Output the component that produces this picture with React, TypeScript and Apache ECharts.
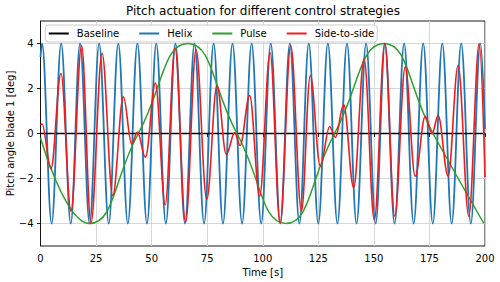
import React, { useEffect, useRef } from 'react';
import * as echarts from 'echarts';

const TITLE = 'Pitch actuation for different control strategies';
const X_NAME = 'Time [s]';
const Y_NAME = 'Pitch angle blade 1 [deg]';
const SERIES_NAMES = ['Baseline', 'Helix', 'Pulse', 'Side-to-side'];
const X_MIN = 0;
const X_MAX = 200;
const X_STEP = 25;
const Y_MIN = -5;
const Y_MAX = 5;
const Y_TICK_MIN = -4;
const Y_TICK_MAX = 4;
const Y_STEP = 2;

// Baseline: constant zero
const baselineTimes = [0, 200];
const baselineValues = [0, 0];

// Helix: extrema
const helixAmplitude = 4;
const helixStart = [0, 3.4];
const helixEnd = [200, 0.2];
const helixPeakTimes = [0.7, 9.3, 17.8, 26.4, 35.0, 43.6, 52.1, 60.7, 69.3, 77.9, 86.4, 95.0, 103.6, 112.2, 120.7, 129.3, 137.9, 146.5, 155.0, 163.6, 172.2, 180.8, 189.3, 197.9];
const helixTroughTimes = [5.0, 13.6, 22.1, 30.7, 39.3, 47.9, 56.4, 65.0, 73.6, 82.1, 90.7, 99.3, 107.9, 116.5, 125.0, 133.6, 142.2, 150.8, 159.3, 167.9, 176.5, 185.0, 193.6];

// Pulse: extrema and zero crossings
const pulseTimes = [0, 22.0, 44.0, 66.3, 88.4, 110.4, 132.3, 154.6, 176.6, 199.5];
const pulseValues = [-0.2, -4, 0, 4, 0, -4, 0, 4, 0, -4];

// Side-to-side: extrema
const sideTimes = [0, 0.7, 4.7, 9.2, 13.7, 18.5, 22.7, 27.7, 32.5, 37.3, 41.0, 43.6, 47.2, 51.7, 56.1, 60.5, 65.3, 70.0, 74.8, 79.4, 83.6, 87.4, 89.8, 94.1, 98.6, 103.3, 107.8, 112.6, 117.4, 121.4, 125.9, 130.1, 132.7, 136.4, 140.9, 145.6, 150.2, 154.9, 159.4, 164.1, 168.6, 173.1, 176.2, 178.9, 183.4, 187.9, 192.7, 197.4, 200];
const sideValues = [0.38, 0.42, -1.57, 2.67, -3.45, 3.91, -3.97, 3.56, -2.76, 1.63, -0.46, 0.07, -1.06, 2.24, -3.17, 3.81, -3.94, 3.73, -2.93, 2.13, -0.93, 0.04, -0.53, 1.69, -2.79, 3.59, -3.97, 3.91, -3.45, 2.58, -1.45, 0.3, -0.16, 1.29, -2.41, 3.32, -3.85, 4.0, -3.67, 2.96, -1.9, 0.77, 0.0, 0.8, -1.9, 3.02, -3.67, 4.0, -1.93];

const COLORS = {
  baseline: '#000000',
  helix: '#1f77b4',
  pulse: '#2ca02c',
  side: '#ee1c1f',
  grid: '#d2d2d2',
  axis: '#000000',
};

const zip = (xs: number[], ys: number[]) => xs.map((x, i) => [x, ys[i]]);

function buildHelix(): number[][] {
  const pts: number[][] = [];
  helixPeakTimes.forEach((t) => pts.push([t, helixAmplitude]));
  helixTroughTimes.forEach((t) => pts.push([t, -helixAmplitude]));
  pts.sort((a, b) => a[0] - b[0]);
  return [helixStart, ...pts, helixEnd];
}

const fmtNum = (v: number) => (v < 0 ? '\u2212' + String(Math.abs(v)) : String(v));

export default function App() {
  const ref = useRef<HTMLDivElement>(null);
  useEffect(() => {
    if (!ref.current) return;
    const chart = echarts.init(ref.current, undefined, { renderer: 'svg' });
    const font = 'DejaVu Sans';
    const left = 40.5;
    const top = 21;
    const width = 444.5;
    const height = 225;
    const unit = height / (Y_MAX - Y_MIN);
    const option: any = {
      animation: false,
      backgroundColor: '#ffffff',
      textStyle: { fontFamily: font },
      title: {
        text: TITLE,
        left: 263,
        top: 4.5,
        textAlign: 'center',
        padding: 0,
        textStyle: { fontSize: 12, fontWeight: 'normal', color: '#000', fontFamily: font },
      },
      legend: {
        data: SERIES_NAMES.map((n) => ({ name: n, icon: 'rect' })),
        left: 45.3,
        top: 25,
        orient: 'horizontal',
        padding: [3.5, 3, 3.5, 3.5],
        itemWidth: 20,
        itemHeight: 2,
        itemGap: 20,
        backgroundColor: 'rgba(255,255,255,0.85)',
        borderColor: '#cccccc',
        borderWidth: 1,
        borderRadius: 3,
        formatter: '{a|{name}}',
        textStyle: {
          fontSize: 10,
          color: '#000',
          fontFamily: font,
          rich: { a: { fontSize: 10, color: '#000', fontFamily: font, padding: [0, 0, 0, 3], lineHeight: 12 } },
        },
      },
      grid: [
        { left, top, width, height, show: true, borderColor: COLORS.axis, borderWidth: 0.9, containLabel: false, outerBoundsMode: 'none' },
        {
          left,
          top: top + (Y_MAX - Y_TICK_MAX) * unit,
          width,
          height: (Y_TICK_MAX - Y_TICK_MIN) * unit,
          show: false,
          containLabel: false,
          outerBoundsMode: 'none',
        },
      ],
      xAxis: [
        {
          type: 'value',
          gridIndex: 0,
          min: X_MIN,
          max: X_MAX,
          interval: X_STEP,
          name: X_NAME,
          nameLocation: 'middle',
          nameGap: 19,
          nameTextStyle: { fontSize: 10, color: '#000', fontFamily: font },
          axisLine: { show: true, lineStyle: { color: COLORS.axis, width: 0.9 } },
          axisTick: { show: true, inside: false, length: 3.5, lineStyle: { color: COLORS.axis, width: 0.9 } },
          axisLabel: { show: true, margin: 7, fontSize: 10, color: '#000', fontFamily: font, formatter: (v: number) => fmtNum(v) },
          splitLine: { show: true, lineStyle: { color: COLORS.grid, width: 0.9 } },
        },
        { type: 'value', gridIndex: 1, min: X_MIN, max: X_MAX, show: false },
      ],
      yAxis: [
        {
          type: 'value',
          gridIndex: 0,
          min: Y_MIN,
          max: Y_MAX,
          name: Y_NAME,
          nameLocation: 'middle',
          nameGap: 25,
          nameTextStyle: { fontSize: 10, color: '#000', fontFamily: font },
          axisLine: { show: true, lineStyle: { color: COLORS.axis, width: 0.9 } },
          axisTick: { show: false },
          axisLabel: { show: false },
          splitLine: { show: false },
        },
        {
          type: 'value',
          gridIndex: 1,
          min: Y_TICK_MIN,
          max: Y_TICK_MAX,
          interval: Y_STEP,
          axisLine: { show: false },
          axisTick: { show: true, inside: false, length: 3.5, lineStyle: { color: COLORS.axis, width: 0.9 } },
          axisLabel: { show: true, margin: 7, fontSize: 10, color: '#000', fontFamily: font, formatter: (v: number) => fmtNum(v) },
          splitLine: { show: true, lineStyle: { color: COLORS.grid, width: 0.9 } },
        },
      ],
      series: [
        {
          name: 'Helix',
          type: 'line',
          xAxisIndex: 0,
          yAxisIndex: 0,
          data: buildHelix(),
          smooth: 0.364,
          smoothMonotone: 'x',
          symbol: 'none',
          showSymbol: false,
          lineStyle: { color: COLORS.helix, width: 1.8 },
          itemStyle: { color: COLORS.helix },
          z: 2,
        },
        {
          name: 'Baseline',
          type: 'line',
          xAxisIndex: 0,
          yAxisIndex: 0,
          data: zip(baselineTimes, baselineValues),
          symbol: 'none',
          showSymbol: false,
          lineStyle: { color: COLORS.baseline, width: 1.6 },
          itemStyle: { color: COLORS.baseline },
          z: 3,
        },
        {
          name: 'Pulse',
          type: 'line',
          xAxisIndex: 0,
          yAxisIndex: 0,
          data: zip(pulseTimes, pulseValues),
          smooth: 0.5,
          symbol: 'none',
          showSymbol: false,
          lineStyle: { color: COLORS.pulse, width: 1.5 },
          itemStyle: { color: COLORS.pulse },
          z: 4,
        },
        {
          name: 'Side-to-side',
          type: 'line',
          xAxisIndex: 0,
          yAxisIndex: 0,
          data: zip(sideTimes, sideValues),
          smooth: 0.364,
          smoothMonotone: 'x',
          symbol: 'none',
          showSymbol: false,
          lineStyle: { color: COLORS.side, width: 1.6 },
          itemStyle: { color: COLORS.side },
          z: 5,
        },
      ],
    };
    chart.setOption(option);
    return () => chart.dispose();
  }, []);
  return (
    <div
      ref={ref}
      style={{ position: 'absolute', left: 0, top: 0, width: 500, height: 282, background: '#fff' }}
    />
  );
}
